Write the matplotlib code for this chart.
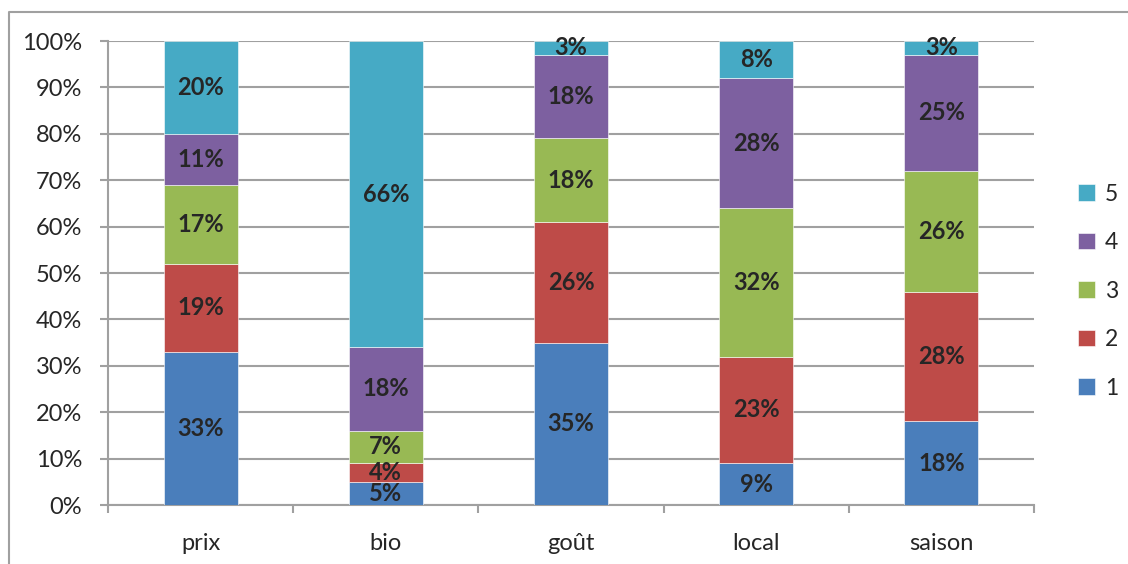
import matplotlib
matplotlib.use('Agg')
import matplotlib.pyplot as plt
from matplotlib.lines import Line2D
import numpy as np

plt.rcParams['font.family'] = ['Lato', 'DejaVu Sans']

categories = ['prix', 'bio', 'goût', 'local', 'saison']
levels = ['1', '2', '3', '4', '5']
shares = {
    '1': [33, 5, 35, 9, 18],
    '2': [19, 4, 26, 23, 28],
    '3': [17, 7, 18, 32, 26],
    '4': [11, 18, 18, 28, 25],
    '5': [20, 66, 3, 8, 3],
}
colors = ['#4A7EBB', '#BE4B48', '#98B954', '#7D60A0', '#46AAC5']

txt = '#262626'
grid = '#A0A0A0'

fig = plt.figure(figsize=(11.28, 5.64), dpi=100)
ax = fig.add_axes([108/1128, 59/564, 926/1128, 464/564])

x = np.arange(len(categories))
bottom = np.zeros(len(categories))
handles = []
for lvl, c in zip(levels, colors):
    vals = np.array(shares[lvl], dtype=float)
    b = ax.bar(x, vals, 0.4, bottom=bottom, color=c, edgecolor='white',
               linewidth=0.4, zorder=3, label=lvl)
    handles.append(b)
    for xi, v, b0 in zip(x, vals, bottom):
        ax.text(xi, b0 + v / 2, f'{v:.0f}%', ha='center', va='center',
                fontsize=17, fontweight='bold', color=txt, zorder=4)
    bottom += vals

ax.set_xlim(-0.5, 4.5)
ax.set_ylim(0, 100)
ax.set_yticks(np.arange(0, 101, 10))
ax.set_yticklabels([f'{v}%' for v in range(0, 101, 10)])
ax.yaxis.grid(True, color=grid, linewidth=1.5, zorder=0)

ax.set_xticks(x)
ax.set_xticklabels(categories)
ax.set_xticks(np.arange(-0.5, 5, 1), minor=True)
ax.tick_params(axis='x', which='major', length=0, pad=20, labelsize=17, labelcolor=txt)
ax.tick_params(axis='x', which='minor', length=5.5, width=1.5, color=grid, direction='out')
ax.tick_params(axis='y', length=5.5, width=1.5, color=grid, pad=13, labelsize=17, labelcolor=txt)

for s in ['top', 'right']:
    ax.spines[s].set_visible(False)
for s in ['left', 'bottom']:
    ax.spines[s].set_color(grid)
    ax.spines[s].set_linewidth(1.5)

leg = fig.legend(handles[::-1], levels[::-1], loc='center left',
                 bbox_to_anchor=(1078/1128, 0.484), frameon=False,
                 borderpad=0, borderaxespad=0,
                 fontsize=16.5, labelspacing=1.2, handlelength=0.72,
                 handleheight=0.72, handletextpad=0.45)
for t in leg.get_texts():
    t.set_color(txt)

# outer chart frame
W, H = 1128, 564
fig.add_artist(Line2D([9/W, 9/W, 1.0], [0.0, 1 - 12/H, 1 - 12/H],
                      transform=fig.transFigure, color=grid, linewidth=1.5))

fig.savefig('out.png', dpi=100)
